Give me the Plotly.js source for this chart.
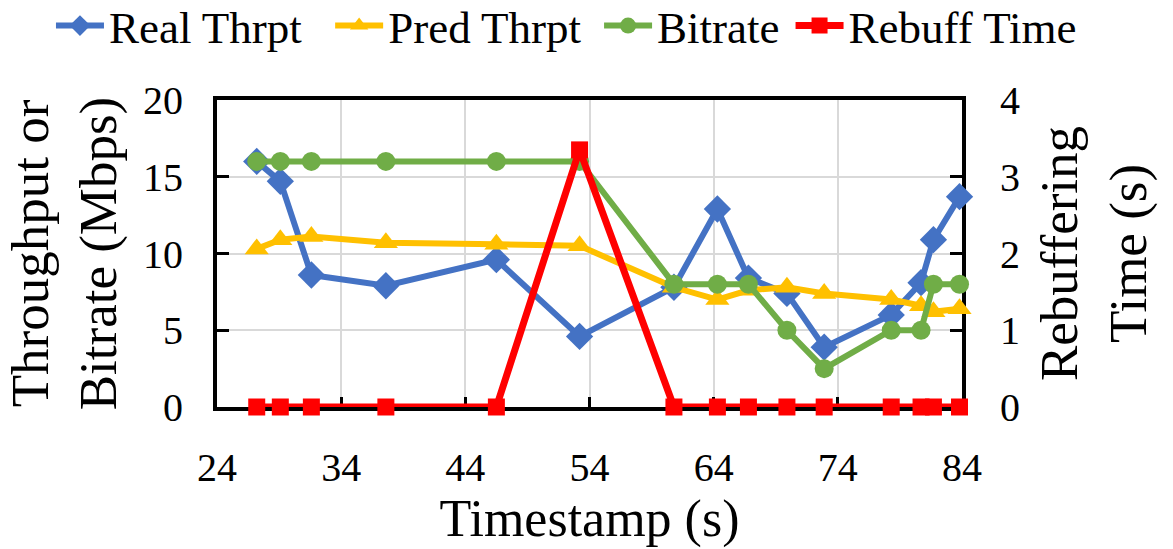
<!DOCTYPE html>
<html>
<head>
<meta charset="utf-8">
<script src="https://cdn.plot.ly/plotly-3.0.1.min.js"></script>
<style>html,body{margin:0;padding:0;background:#fff;}#chart{width:1173px;height:549px;}</style>
</head>
<body>
<div id="chart"></div>
<script>
const timestamps = [27.2, 29.1, 31.6, 37.6, 46.5, 53.2, 60.8, 64.3, 66.8, 69.9, 72.9, 78.3, 80.7, 81.7, 83.8];
const realThrpt  = [16.0, 14.7, 8.6, 7.9, 9.6, 4.6, 7.8, 12.9, 8.4, 7.4, 3.9, 6.0, 8.1, 10.9, 13.7];
const predThrpt  = [10.3, 10.9, 11.1, 10.7, 10.6, 10.5, 7.8, 7.0, 7.6, 7.8, 7.4, 7.0, 6.6, 6.2, 6.4];
const bitrate    = [16, 16, 16, 16, 16, 16, 8, 8, 8, 5, 2.5, 5, 5, 8, 8];
const rebuffTime = [0, 0, 0, 0, 0, 3.35, 0, 0, 0, 0, 0, 0, 0, 0, 0];
const seriesNames = ["Real Thrpt", "Pred Thrpt", "Bitrate", "Rebuff Time"];
const xTicks = [24, 34, 44, 54, 64, 74, 84];

const FONT = '"Liberation Serif", "Times New Roman", serif';
const traces = [
  {x: timestamps, y: realThrpt, name: seriesNames[0], mode: "lines+markers", legend: "legend", cliponaxis: false,
   line: {color: "#4472C4", width: 6}, marker: {symbol: "diamond", size: 21, color: "#4472C4"}},
  {x: timestamps, y: predThrpt, name: seriesNames[1], mode: "lines+markers", legend: "legend2", cliponaxis: false,
   line: {color: "#FFC000", width: 6}, marker: {symbol: "triangle-up", size: 21, color: "#FFC000"}},
  {x: timestamps, y: bitrate, name: seriesNames[2], mode: "lines+markers", legend: "legend3", cliponaxis: false,
   line: {color: "#70AD47", width: 6}, marker: {symbol: "circle", size: 19, color: "#70AD47"}},
  {x: timestamps, y: rebuffTime, name: seriesNames[3], mode: "lines+markers", yaxis: "y2", legend: "legend4", cliponaxis: false,
   line: {color: "#FF0000", width: 7}, marker: {symbol: "square", size: 17, color: "#FF0000"}}
];

function legendAt(xc) {
  return {orientation: "h", xref: "container", yref: "container",
          x: xc, xanchor: "center", y: 0.953, yanchor: "middle",
          font: {family: FONT, size: 45, color: "#000"}, itemwidth: 48,
          bgcolor: "rgba(0,0,0,0)", borderwidth: 0};
}

const layout = {
  width: 1173, height: 549,
  margin: {l: 217, r: 211, t: 100, b: 142, autoexpand: false},
  paper_bgcolor: "#fff", plot_bgcolor: "#fff",
  font: {family: FONT, color: "#000", size: 40},
  showlegend: true,
  legend: legendAt(0.153),
  legend2: legendAt(0.391),
  legend3: legendAt(0.590),
  legend4: legendAt(0.798),
  xaxis: {
    range: [24, 84], tickvals: xTicks, ticktext: xTicks.map(String),
    showgrid: true, gridcolor: "#d9d9d9", gridwidth: 2,
    showline: true, linecolor: "#000", linewidth: 4, mirror: true,
    ticks: "inside", ticklen: 10, tickwidth: 3, tickcolor: "#000",
    tickfont: {family: FONT, size: 40}, ticklabelstandoff: 22,
    zeroline: false, layer: "below traces",
    title: {text: "Timestamp (s)", font: {family: FONT, size: 52}, standoff: 8}
  },
  yaxis: {
    range: [0, 20], dtick: 5, tick0: 0,
    showgrid: true, gridcolor: "#d9d9d9", gridwidth: 2,
    showline: true, linecolor: "#000", linewidth: 4,
    ticks: "inside", ticklen: 12, tickwidth: 3, tickcolor: "#000",
    tickfont: {family: FONT, size: 40}, ticklabelstandoff: 22,
    zeroline: false, layer: "below traces",
    title: {text: "Throughput or<br>Bitrate (Mbps)", font: {family: FONT, size: 53}, standoff: 10}
  },
  yaxis2: {
    range: [0, 4], dtick: 1, tick0: 0, overlaying: "y", side: "right",
    showgrid: false, showline: true, linecolor: "#000", linewidth: 4,
    ticks: "inside", ticklen: 12, tickwidth: 3, tickcolor: "#000",
    tickfont: {family: FONT, size: 40}, ticklabelstandoff: 26,
    zeroline: false, layer: "below traces",
    title: {text: "Rebuffering<br>Time (s)", font: {family: FONT, size: 53}, standoff: 22}
  }
};

Plotly.newPlot("chart", traces, layout, {displayModeBar: false, staticPlot: true});
</script>
</body>
</html>
